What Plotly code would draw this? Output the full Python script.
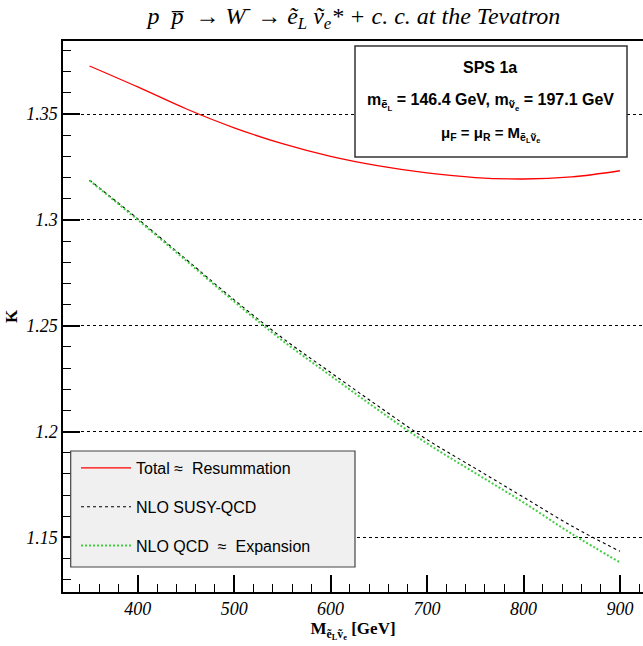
import plotly.graph_objects as go

# ---- data ----
mass = [350, 400, 450, 500, 550, 600, 650, 700, 750, 800, 850, 900]
k_total = [1.3727, 1.3628, 1.3525, 1.3435, 1.3360, 1.3300, 1.3255, 1.3222, 1.3200, 1.3193, 1.3203, 1.3232]
k_nlo_susy = [1.3188, 1.3005, 1.2814, 1.2622, 1.2442, 1.2279, 1.2118, 1.1962, 1.1826, 1.1690, 1.1554, 1.1434]
k_nlo_qcd = [1.3186, 1.3000, 1.2808, 1.2614, 1.2430, 1.2264, 1.2100, 1.1944, 1.1804, 1.1665, 1.1517, 1.1382]

series_names = ["Total \u2248  Resummation", "NLO SUSY-QCD", "NLO QCD  \u2248  Expansion"]

x_tickvals = [400, 500, 600, 700, 800, 900]
x_ticktext = ["400", "500", "600", "700", "800", "900"]
y_tickvals = [1.15, 1.2, 1.25, 1.3, 1.35]
y_ticktext = ["1.15", "1.2", "1.25", "1.3", "1.35"]

# ---- layout geometry (pixels) ----
W, H = 643, 646
L, R, T, B = 63, 0, 41, 54
PW, PH = W - L - R, H - T - B


def px(x):
    return (x - L) / PW


def py(y):
    return (H - B - y) / PH


serif = "Liberation Serif"
sans = "Liberation Sans"

fig = go.Figure()
fig.add_trace(go.Scatter(x=mass, y=k_total, mode="lines", name=series_names[0],
                         line=dict(color="#ff0000", width=1.3, shape="spline"),
                         legendgroup="a"))
fig.add_trace(go.Scatter(x=mass, y=k_nlo_susy, mode="lines", name=series_names[1],
                         line=dict(color="#000000", width=1.1, dash="3px,3px", shape="spline"),
                         legendgroup="b"))
fig.add_trace(go.Scatter(x=mass, y=k_nlo_qcd, mode="lines", name=series_names[2],
                         line=dict(color="#44cc44", width=2, dash="2px,2px", shape="spline"),
                         legendgroup="c"))

title = ("p  p\u0305  \u2192 W<sup>-</sup> \u2192 \u1ebd<sub>L</sub> \u1e7d<sub>e</sub>* "
         "+ c. c. at the Tevatron")

fig.update_layout(
    width=W, height=H,
    margin=dict(l=L, r=R, t=T, b=B, pad=0),
    paper_bgcolor="white", plot_bgcolor="white",
    title=dict(text=title, x=px(354), xanchor="center", xref="paper",
               y=1 - 16 / H, yref="container", yanchor="middle",
               font=dict(family=serif, size=24, color="black", style="italic")),
    showlegend=True,
    legend=dict(x=px(76), xanchor="left", y=py(451), yanchor="top",
                bgcolor="rgba(0,0,0,0)", borderwidth=0,
                font=dict(family=sans, size=16, color="black"),
                tracegroupgap=15, itemwidth=50),
    xaxis=dict(range=[322.5, 322.5 + PW / 0.9644],
               tickmode="array", tickvals=x_tickvals, ticktext=x_ticktext,
               ticks="inside", ticklen=17, tickwidth=1.5, tickcolor="black",
               minor=dict(tickmode="linear", tick0=0, dtick=20, ticks="inside",
                          ticklen=8, tickwidth=1, tickcolor="black", showgrid=False),
               showline=True, linecolor="black", linewidth=1.5, mirror=True,
               showgrid=False, zeroline=False,
               tickfont=dict(family=serif, size=18, color="black", style="italic"),
               title=dict(text="<b>M<sub>\u1ebd<sub>L</sub>\u1e7d<sub>e</sub></sub> [GeV]</b>",
                          font=dict(family=serif, size=17, color="black"), standoff=3)),
    yaxis=dict(range=[1.1242, 1.3845],
               tickmode="array", tickvals=y_tickvals, ticktext=y_ticktext,
               ticks="inside", ticklen=17, tickwidth=1.5, tickcolor="black",
               minor=dict(tickmode="linear", tick0=0, dtick=0.01, ticks="inside",
                          ticklen=8, tickwidth=1, tickcolor="black", showgrid=False),
               showline=True, linecolor="black", linewidth=1.5, mirror=False,
               showgrid=True, gridcolor="black", gridwidth=1, griddash="dot",
               zeroline=False,
               tickfont=dict(family=serif, size=18, color="black", style="italic"),
               title=dict(text="<b>K</b>", font=dict(family=serif, size=17, color="black"),
                          standoff=4)),
)

shapes = [
    # legend panel
    dict(type="rect", xref="paper", yref="paper", x0=px(70.7), x1=px(355), y0=py(567), y1=py(451),
         fillcolor="#f0f0f0", line=dict(color="#444444", width=1.2), layer="above"),
    # info panel
    dict(type="rect", xref="paper", yref="paper", x0=px(355), x1=px(627), y0=py(157), y1=py(46),
         fillcolor="white", line=dict(color="#333333", width=1.5), layer="above"),
]
fig.update_layout(shapes=shapes)

info_font = dict(family=sans, size=16, color="black", weight="bold")
fig.add_annotation(xref="paper", yref="paper", x=px(490), y=py(67), text="<b>SPS 1a</b>",
                   showarrow=False, xanchor="center", yanchor="middle", font=info_font)
fig.add_annotation(xref="paper", yref="paper", x=px(490), y=py(102),
                   text="<b>m<sub>\u1ebd<sub>L</sub></sub> = 146.4 GeV, m<sub>\u1e7d<sub>e</sub></sub> = 197.1 GeV</b>",
                   showarrow=False, xanchor="center", yanchor="middle", font=info_font)
fig.add_annotation(xref="paper", yref="paper", x=px(490), y=py(134),
                   text="<b>\u03bc<sub>F</sub> = \u03bc<sub>R</sub> = M<sub>\u1ebd<sub>L</sub>\u1e7d<sub>e</sub></sub></b>",
                   showarrow=False, xanchor="center", yanchor="middle",
                   font=dict(family=sans, size=15, color="black", weight="bold"))

fig.write_html("out.html", config={"displayModeBar": False},
               post_script="document.body.style.margin='0';document.body.style.overflow='hidden';")
